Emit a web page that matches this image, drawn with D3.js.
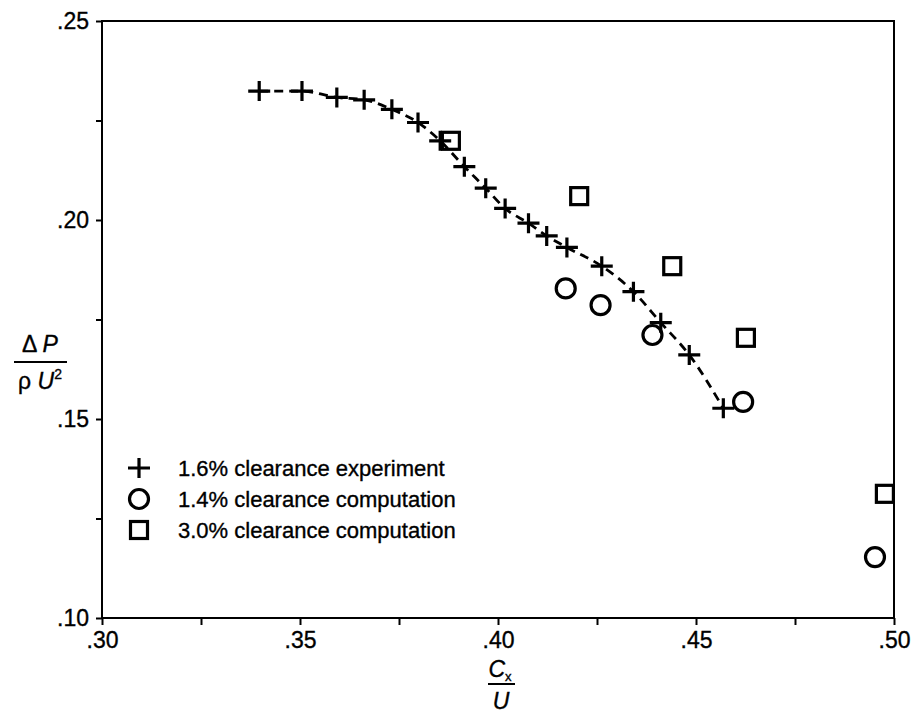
<!DOCTYPE html>
<html>
<head>
<meta charset="utf-8">
<script src="https://cdn.jsdelivr.net/npm/d3@7"></script>
<style>
body { margin: 0; background: #fff; }
svg { display: block; }
text { font-family: "Liberation Sans", Arial, sans-serif; fill: #000; stroke: #000; stroke-width: 0.35px; }
</style>
</head>
<body>
<svg id="chart" width="913" height="713"></svg>
<script>
// 1.6% clearance experiment (crosses, joined by dashed curve)
const expX = [0.3397, 0.3505, 0.3593, 0.3662, 0.3732, 0.3798, 0.3854, 0.3915, 0.3969,
              0.4018, 0.4077, 0.4123, 0.4174, 0.4262, 0.4342, 0.4411, 0.4483, 0.4569];
const expY = [0.2324, 0.2324, 0.2308, 0.2302, 0.2278, 0.2245, 0.2199, 0.2134, 0.2080,
              0.2029, 0.1992, 0.1960, 0.1931, 0.1884, 0.1820, 0.1742, 0.1661, 0.1527];
// 1.4% clearance computation (circles)
const comp14X = [0.4171, 0.4259, 0.4390, 0.4619, 0.4952];
const comp14Y = [0.1828, 0.1786, 0.1711, 0.1543, 0.1153];
// 3.0% clearance computation (squares)
const comp30X = [0.3881, 0.4205, 0.4440, 0.4626, 0.4977];
const comp30Y = [0.2199, 0.2060, 0.1884, 0.1704, 0.1312];

const xTicks = [0.30, 0.325, 0.35, 0.375, 0.40, 0.425, 0.45, 0.475, 0.50];
const yTicks = [0.10, 0.125, 0.15, 0.175, 0.20, 0.225, 0.25];
const xLabelled = [0.30, 0.35, 0.40, 0.45, 0.50];
const yLabelled = [0.10, 0.15, 0.20, 0.25];
const legendLabels = ["1.6% clearance experiment", "1.4% clearance computation", "3.0% clearance computation"];

const svg = d3.select("#chart");
const plotL = 102, plotR = 894, plotT = 21, plotB = 618;

const x = d3.scaleLinear().domain([0.30, 0.50]).range([plotL, plotR]);
const y = d3.scaleLinear().domain([0.10, 0.25]).range([plotB, plotT]);

const fmt = v => d3.format(".2f")(v).replace(/^0/, "");
const isLabelled = (list, v) => list.some(d => Math.abs(d - v) < 1e-9);

// axes
const xAxis = svg.append("g")
    .attr("transform", `translate(0,${plotB})`)
    .call(d3.axisBottom(x).tickValues(xTicks).tickSize(7).tickPadding(7)
        .tickFormat(d => isLabelled(xLabelled, d) ? fmt(d) : ""));
const yAxis = svg.append("g")
    .attr("transform", `translate(${plotL},0)`)
    .call(d3.axisLeft(y).tickValues(yTicks).tickSize(6).tickPadding(7)
        .tickFormat(d => isLabelled(yLabelled, d) ? fmt(d) : ""));

[xAxis, yAxis].forEach(a => {
    a.select(".domain").remove();
    a.selectAll("line").attr("stroke", "#000").attr("stroke-width", 2);
    a.selectAll("text").attr("font-size", 23)
        .attr("font-family", '"Liberation Sans", Arial, sans-serif').attr("fill", "#000");
});

// frame
svg.append("rect")
    .attr("x", plotL).attr("y", plotT)
    .attr("width", plotR - plotL).attr("height", plotB - plotT)
    .attr("fill", "none").attr("stroke", "#000").attr("stroke-width", 2);

// dashed curve through experiment
const expPts = expX.map((d, i) => [d, expY[i]]);
svg.append("path")
    .datum(expPts)
    .attr("fill", "none").attr("stroke", "#000").attr("stroke-width", 2.8)
    .attr("stroke-dasharray", "9,6")
    .attr("d", d3.line().x(d => x(d[0])).y(d => y(d[1])).curve(d3.curveMonotoneX));

const plusPath = "M-11,0H11M0,-10V10";
const drawPlus = (g, cx, cy) => g.append("path")
    .attr("transform", `translate(${cx},${cy})`)
    .attr("d", plusPath).attr("fill", "none").attr("stroke", "#000").attr("stroke-width", 3.2);
const drawCircle = (g, cx, cy) => g.append("circle")
    .attr("cx", cx).attr("cy", cy).attr("r", 9.5)
    .attr("fill", "none").attr("stroke", "#000").attr("stroke-width", 3.2);
const drawSquare = (g, cx, cy) => g.append("rect")
    .attr("x", cx - 8.5).attr("y", cy - 8.5).attr("width", 17).attr("height", 17)
    .attr("fill", "none").attr("stroke", "#000").attr("stroke-width", 3.2);

const marks = svg.append("g");
expPts.forEach(d => drawPlus(marks, x(d[0]), y(d[1])));
comp14X.forEach((d, i) => drawCircle(marks, x(d), y(comp14Y[i])));
comp30X.forEach((d, i) => drawSquare(marks, x(d), y(comp30Y[i])));

// legend
const legend = svg.append("g");
const drawers = [drawPlus, drawCircle, drawSquare];
legendLabels.forEach((t, i) => {
    const ly = 468 + i * 31;
    drawers[i](legend, 139, ly);
    legend.append("text").attr("x", 178).attr("y", ly + 8)
        .attr("font-size", 22).text(t);
});

// y label: ΔP / ρU²
const yl = svg.append("g");
yl.append("text").attr("x", 40).attr("y", 352).attr("text-anchor", "middle").attr("font-size", 23)
    .html('Δ <tspan font-style="italic">P</tspan>');
yl.append("line").attr("x1", 14).attr("x2", 67).attr("y1", 362).attr("y2", 362)
    .attr("stroke", "#000").attr("stroke-width", 2);
yl.append("text").attr("x", 40).attr("y", 389).attr("text-anchor", "middle").attr("font-size", 23)
    .html('ρ <tspan font-style="italic">U</tspan><tspan dy="-10" font-size="14">2</tspan>');

// x label: Cx / U
const xl = svg.append("g");
xl.append("text").attr("x", 500).attr("y", 677).attr("text-anchor", "middle").attr("font-size", 23)
    .html('<tspan font-style="italic">C</tspan><tspan dy="4" font-size="13">x</tspan>');
xl.append("line").attr("x1", 488).attr("x2", 515).attr("y1", 684).attr("y2", 684)
    .attr("stroke", "#000").attr("stroke-width", 2);
xl.append("text").attr("x", 501).attr("y", 709).attr("text-anchor", "middle").attr("font-size", 23)
    .attr("font-style", "italic").text("U");
</script>
</body>
</html>
